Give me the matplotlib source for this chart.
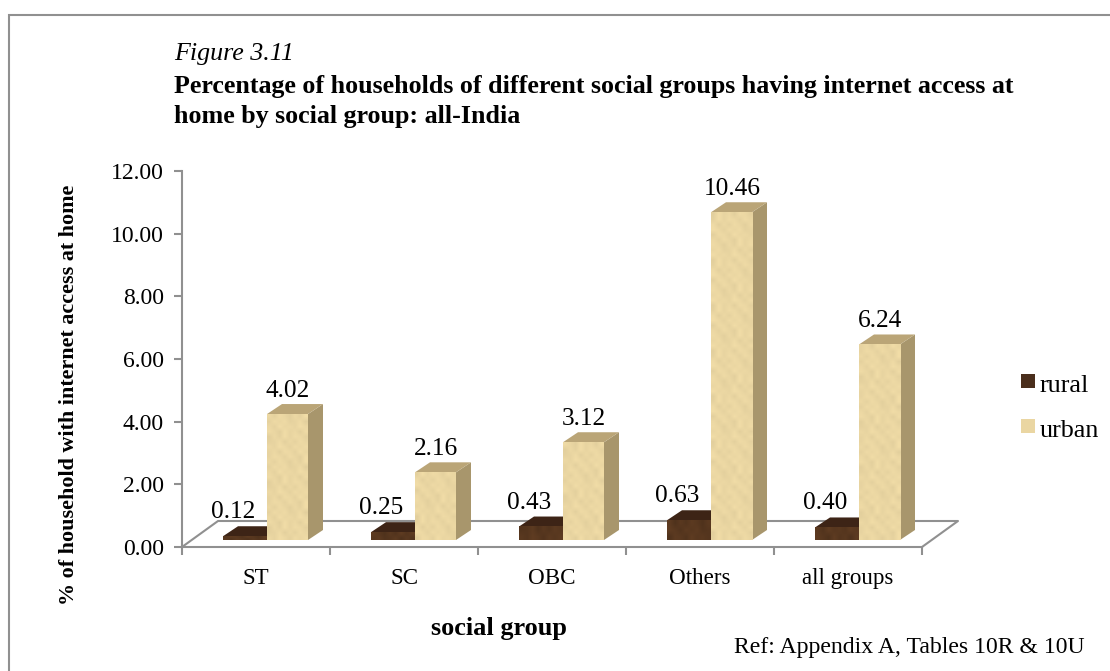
import matplotlib
matplotlib.use("Agg")
import matplotlib.pyplot as plt
from matplotlib.colors import to_rgb
from matplotlib.patches import Polygon, Rectangle
import numpy as np

W, H = 1110, 671

categories = ["ST", "SC", "OBC", "Others", "all groups"]
rural = [0.12, 0.25, 0.43, 0.63, 0.40]
urban = [4.02, 2.16, 3.12, 10.46, 6.24]
yticks = [0, 2, 4, 6, 8, 10, 12]

plt.rcParams['font.family'] = ['Liberation Serif', 'DejaVu Serif']

# axes box in pixels, y=0 at the front floor edge
AX_L, AX_R, AX_T, AX_B = 182, 922, 171, 547
PX_X = (AX_R - AX_L) / 5
PX_Y = (AX_B - AX_T) / 12

# 3d offsets, in data units
BACK_X = 15 / PX_X
BACK_Y = 10 / PX_Y
BASE_Y = 7 / PX_Y  # bars sit on the floor a little behind the front edge
FLOOR_X = 36 / PX_X
FLOOR_Y = 26 / PX_Y

GREY = "#909090"

# small repeating tile for the mottled paper look of the bars
TILE = np.array([
    [0.01, -0.02, 0.02, 0.00, -0.03, 0.01],
    [-0.02, 0.03, -0.01, 0.02, 0.01, -0.02],
    [0.02, 0.00, -0.03, 0.03, -0.01, 0.01],
    [-0.03, 0.02, 0.01, -0.02, 0.03, 0.00],
    [0.01, -0.01, 0.03, 0.01, -0.02, 0.02],
    [0.00, 0.02, -0.02, -0.01, 0.02, -0.03],
])

fig = plt.figure(figsize=(W / 100, H / 100), dpi=100)
ax = fig.add_axes([AX_L / W, 1 - AX_B / H, (AX_R - AX_L) / W, (AX_B - AX_T) / H])
ax.patch.set_visible(False)
for side in ["top", "right"]:
    ax.spines[side].set_visible(False)
for side in ["left", "bottom"]:
    ax.spines[side].set_color(GREY)
    ax.spines[side].set_linewidth(1.5)


def draw_bar(x0, w, val, front, top, side, seed, strength):
    y0 = BASE_Y
    y1 = BASE_Y + val
    ax.add_patch(Polygon([(x0 + w, y0), (x0 + w + BACK_X, y0 + BACK_Y),
                          (x0 + w + BACK_X, y1 + BACK_Y), (x0 + w, y1)],
                         fc=side, ec="none", zorder=3))
    ax.add_patch(Polygon([(x0, y1), (x0 + w, y1), (x0 + w + BACK_X, y1 + BACK_Y),
                          (x0 + BACK_X, y1 + BACK_Y)],
                         fc=top, ec="none", zorder=3))
    # front face, tile blocks of about 5 px
    rows = max(2, int(val * PX_Y / 5))
    cols = max(2, int(w * PX_X / 5))
    tex = np.resize(np.roll(TILE, seed, axis=0), (rows, cols)) * strength
    rgb = np.clip(np.array(to_rgb(front))[None, None, :] * (1 + tex[:, :, None]), 0, 1)
    ax.imshow(rgb, extent=(x0, x0 + w, y0, y1), aspect="auto", origin="lower",
              interpolation="bilinear", zorder=3)


# floor, the front edge is the x axis itself
ax.plot([0, FLOOR_X, 5 + FLOOR_X, 5], [0, FLOOR_Y, FLOOR_Y, 0], color=GREY, lw=1.5,
        clip_on=False, zorder=1)

for i in range(5):
    x_r = i + (223 - AX_L) / PX_X
    x_u = x_r + 44 / PX_X
    draw_bar(x_r, 44 / PX_X, rural[i], "#57371f", "#3d2416", "#2e1b10", i, 3)
    draw_bar(x_u, 41 / PX_X, urban[i], "#ead6a2", "#baa577", "#a8966c", i + 2, 1)
    ax.text(x_r + 10 / PX_X, rural[i] + BASE_Y + BACK_Y + 3 / PX_Y, f"{rural[i]:.2f}",
            ha="center", va="bottom", fontsize=18.3, zorder=4)
    ax.text(x_u + 21 / PX_X, urban[i] + BASE_Y + BACK_Y + 2 / PX_Y, f"{urban[i]:.2f}",
            ha="center", va="bottom", fontsize=18.3, zorder=4)

ax.set_xlim(0, 5)
ax.set_ylim(0, 12)
ax.set_yticks(yticks)
ax.set_yticklabels([f"{v:.2f}" for v in yticks], fontsize=17)
ax.set_xticks(range(6))
ax.set_xticklabels([])
ax.tick_params(axis="both", color=GREY, width=1.5, length=6)
ax.tick_params(axis="y", pad=7)
for i, name in enumerate(categories):
    ax.text(i + 0.5, -(584 - AX_B) / PX_Y, name, ha="center", va="baseline", fontsize=16.6)

ax.set_xlabel("social group", fontsize=18.9, fontweight="bold")
ax.xaxis.set_label_coords((499 - AX_L) / (AX_R - AX_L), 1 - (617 - AX_T) / (AX_B - AX_T))
ax.set_ylabel("% of household with internet access at home", fontsize=15.9, fontweight="bold")
ax.yaxis.set_label_coords((79 - AX_L) / (AX_R - AX_L), 1 - (395 - AX_T) / (AX_B - AX_T))

# legend by hand, its swatches are small squares
for name, col, y in [("rural", "#4a2e1c", 381), ("urban", "#ead6a2", 426)]:
    fig.patches.append(Rectangle((1021 / W, 1 - (y + 7) / H), 14 / W, 14 / H, fc=col, ec="none",
                                 transform=fig.transFigure))
    fig.text(1040 / W, 1 - (y + 5) / H, name, fontsize=18.8, va="center", ha="left")

fig.text(174 / W, 1 - 54 / H, "Figure 3.11", fontsize=18.7, style="italic", va="center")
fig.text(174 / W, 1 - 86.5 / H, "Percentage of households of different social groups having internet access at",
         fontsize=18.7, fontweight="bold", va="center")
fig.text(174 / W, 1 - 116 / H, "home by social group: all-India", fontsize=18.7, fontweight="bold", va="center")
fig.text(734 / W, 1 - 648 / H, "Ref: Appendix A, Tables 10R & 10U", fontsize=17.1, va="center")

# outer frame, runs off the right and bottom of the picture
fig.patches.append(Rectangle((8.5 / W, -0.05), 1.2, 1 - 15 / H + 0.05, fc="none", ec=GREY, lw=1.5,
                             transform=fig.transFigure))

fig.savefig("out.png", dpi=100)
